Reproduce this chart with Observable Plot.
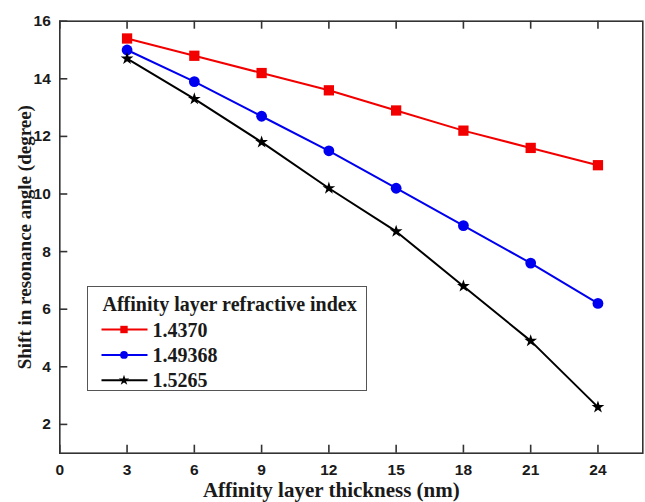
<!DOCTYPE html>
<html>
<head>
<meta charset="utf-8">
<script src="https://cdn.jsdelivr.net/npm/d3@7"></script>
<script src="https://cdn.jsdelivr.net/npm/@observablehq/plot@0.6"></script>
<style>
  html, body { margin: 0; padding: 0; background: #fff; }
  #wrap { position: relative; width: 645px; height: 502px; overflow: hidden; }
  #legend { position: absolute; left: 86.5px; top: 286px; width: 280px; height: 104.5px;
            border: 1px solid #555; background: #fff; box-sizing: border-box; }
  #legend svg { overflow: visible; display: block; }
</style>
</head>
<body>
<div id="wrap"></div>
<script>
// ---- data ----
const thickness = [3, 6, 9, 12, 15, 18, 21, 24];
const seriesNames = ["1.4370", "1.49368", "1.5265"];
const shift_14370 = [15.4, 14.8, 14.2, 13.6, 12.9, 12.2, 11.6, 11.0];
const shift_149368 = [15.0, 13.9, 12.7, 11.5, 10.2, 8.9, 7.6, 6.2];
const shift_15265 = [14.7, 13.3, 11.8, 10.2, 8.7, 6.8, 4.9, 2.6];
const xTicks = [0, 3, 6, 9, 12, 15, 18, 21, 24];
const yTicks = [2, 4, 6, 8, 10, 12, 14, 16];
const xTitle = "Affinity layer thickness (nm)";
const yTitle = "Shift in resonance angle (degree)";
const legendTitle = "Affinity layer refractive index";

// ---- styles ----
const colors = ["#f20000", "#0000f0", "#000000"];
const symbols = ["square", "circle", "star"];
const radii = [5.8, 5.4, 4.0];
const serif = "'Liberation Serif', 'Times New Roman', serif";
const sans = "'Liberation Sans', Arial, sans-serif";

const valuesBySeries = [shift_14370, shift_149368, shift_15265];
const table = [];
seriesNames.forEach((name, s) => {
  valuesBySeries[s].forEach((v, i) => table.push({thickness: thickness[i], shift: v, series: name}));
});

const W = 645, H = 502;
const mL = 59.3, mT = 20.7, mR = 2.7, mB = 49.3;
const tickLen = 8;
const frameW = W - mL - mR, frameH = H - mT - mB;

const axisTextStyle = {fontSize: 15.5, fontWeight: "bold", fontFamily: sans, fill: "#1a1a1a"};
const tickStyle = {stroke: "#333", strokeWidth: 1.6};

const marks = [
  Plot.frame({stroke: "#333", strokeWidth: 1.6}),
  Plot.axisX({anchor: "bottom", ticks: xTicks, tickSize: 0, tickPadding: 11, label: null, ...axisTextStyle}),
  Plot.axisY({anchor: "left", ticks: yTicks, tickSize: 0, tickPadding: 9, label: null, ...axisTextStyle}),
  // inward tick marks: bottom, top, left
  Plot.tickX(xTicks, {x: d => d, insetTop: frameH - tickLen, ...tickStyle}),
  Plot.tickX(xTicks, {x: d => d, insetBottom: frameH - tickLen, ...tickStyle}),
  Plot.tickY(yTicks, {y: d => d, insetRight: frameW - tickLen, ...tickStyle}),
  Plot.line(table, {x: "thickness", y: "shift", z: "series", stroke: "series", strokeWidth: 2}),
  ...seriesNames.map((name, s) =>
    Plot.dot(table.filter(d => d.series === name), {
      x: "thickness", y: "shift", symbol: () => symbols[s], fill: colors[s], stroke: "none", r: radii[s]
    })
  ),
  Plot.text([xTitle], {frameAnchor: "bottom", lineAnchor: "middle", textAnchor: "middle", dy: 37, dx: -20, text: d => d,
    fontSize: 21, fontWeight: "bold", fontFamily: serif, fill: "#1a1a1a"}),
  Plot.text([yTitle], {frameAnchor: "left", lineAnchor: "middle", textAnchor: "middle", dx: -35, rotate: -90, text: d => d,
    fontSize: 19, fontWeight: "bold", fontFamily: serif, fill: "#1a1a1a"})
];

const chart = Plot.plot({
  width: W,
  height: H,
  marginLeft: mL,
  marginTop: mT,
  marginRight: mR,
  marginBottom: mB,
  style: {background: "#fff", overflow: "visible"},
  x: {domain: [0, 26]},
  y: {domain: [1, 16]},
  color: {domain: seriesNames, range: colors},
  marks
});
document.getElementById("wrap").appendChild(chart);

// ---- legend (inside the plot area) ----
const legend = d3.select("#wrap").append("div").attr("id", "legend");
const lsvg = legend.append("svg").attr("width", 278).attr("height", 102);
lsvg.append("text")
  .attr("x", 14.5).attr("y", 17).attr("dy", "0.35em")
  .attr("font-family", serif).attr("font-size", 20).attr("font-weight", "bold")
  .attr("fill", "#1a1a1a").text(legendTitle);
seriesNames.forEach((name, s) => {
  const cy = 42.5 + s * 25.4;
  const g = lsvg.append("g");
  g.append("line").attr("x1", 13.5).attr("x2", 59.5).attr("y1", cy).attr("y2", cy)
    .attr("stroke", colors[s]).attr("stroke-width", 2);
  const symType = {square: d3.symbolSquare, circle: d3.symbolCircle, star: d3.symbolStar}[symbols[s]];
  const rr = s === 2 ? 3.3 : radii[s] * 0.72;
  g.append("path").attr("transform", `translate(36,${cy})`)
    .attr("d", d3.symbol(symType, Math.PI * rr * rr)()).attr("fill", colors[s]);
  g.append("text").attr("x", 64.5).attr("y", cy).attr("dy", "0.35em")
    .attr("font-family", serif).attr("font-size", 20).attr("font-weight", "bold")
    .attr("fill", "#1a1a1a").text(name);
});
</script>
</body>
</html>
